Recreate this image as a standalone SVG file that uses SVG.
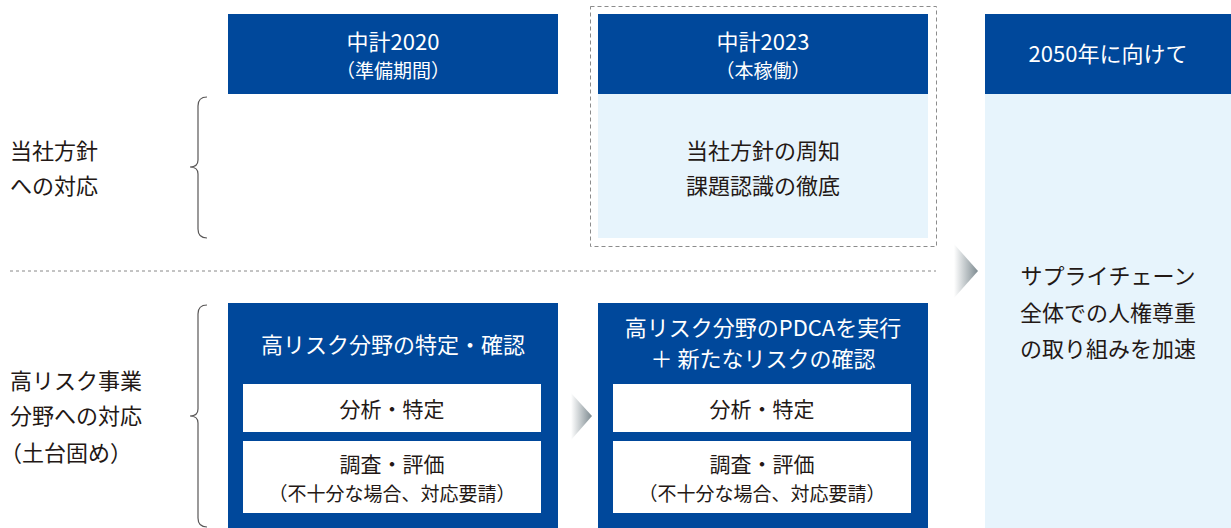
<svg xmlns="http://www.w3.org/2000/svg" width="1231" height="528" viewBox="0 0 1231 528">
<defs>
<linearGradient id="ag" x1="0" y1="0" x2="1" y2="0">
<stop offset="0" stop-color="#ffffff"/>
<stop offset="1" stop-color="#7d8a90"/>
</linearGradient>
<style>
.t{font-family:"Noto Sans CJK JP","Noto Sans",sans-serif;}
.w{fill:#ffffff;}
.k{fill:#231815;}
.blue{fill:#00489b;}
.lb{fill:#e7f4fc;}
.brace{fill:none;stroke:#595757;stroke-width:1.2;}
</style>
</defs>
<rect width="1231" height="528" fill="#ffffff"/>

<g id="left-labels">
<text class="t k" x="10" y="159" font-size="22">当社方針</text>
<text class="t k" x="10" y="194" font-size="22">への対応</text>
<text class="t k" x="10" y="389" font-size="22">高リスク事業</text>
<text class="t k" x="10" y="424" font-size="22">分野への対応</text>
<text class="t k" x="0" y="461" font-size="22">（土台固め）</text>
</g>

<g id="braces">
<path class="brace" d="M207,97 Q198,97 198,106 L198,160 Q198,167 190,167 Q198,167 198,174 L198,229 Q198,238 207,238"/>
<path class="brace" d="M207,305 Q198,305 198,314 L198,409 Q198,416 190,416 Q198,416 198,423 L198,518 Q198,527 207,527"/>
</g>

<g id="connectors">
<line x1="10" y1="271" x2="936" y2="271" stroke="#888888" stroke-width="1" stroke-dasharray="3,3"/>
<polygon points="954,244 978,271 954,298" fill="url(#ag)"/>
<polygon points="571,393 592,416 571,440" fill="url(#ag)"/>
</g>

<g id="h2020">
<rect class="blue" x="228" y="14" width="330" height="80"/>
<text class="t w" x="393" y="50" font-size="22" text-anchor="middle">中計2020</text>
<text class="t w" x="393" y="78" font-size="19" text-anchor="middle">（準備期間）</text>
</g>

<g id="h2023">
<rect x="590.5" y="6.5" width="346" height="240" fill="none" stroke="#8c8c8c" stroke-width="1" stroke-dasharray="4,3"/>
<rect class="blue" x="598" y="14" width="330" height="80"/>
<text class="t w" x="763" y="50" font-size="22" text-anchor="middle">中計2023</text>
<text class="t w" x="763" y="78" font-size="19" text-anchor="middle">（本稼働）</text>
<rect class="lb" x="598" y="94" width="330" height="144"/>
<text class="t k" x="763" y="159" font-size="22" text-anchor="middle">当社方針の周知</text>
<text class="t k" x="763" y="194" font-size="22" text-anchor="middle">課題認識の徹底</text>
</g>

<g id="h2050">
<rect class="blue" x="985" y="14" width="246" height="80"/>
<text class="t w" x="1108" y="62" font-size="22" text-anchor="middle">2050年に向けて</text>
<rect class="lb" x="985" y="94" width="246" height="434"/>
<text class="t k" x="1108" y="284" font-size="22" text-anchor="middle">サプライチェーン</text>
<text class="t k" x="1108" y="321" font-size="22" text-anchor="middle">全体での人権尊重</text>
<text class="t k" x="1108" y="357" font-size="22" text-anchor="middle">の取り組みを加速</text>
</g>

<g id="risk2020">
<rect class="blue" x="228" y="303" width="330" height="225"/>
<text class="t w" x="393" y="353" font-size="22" text-anchor="middle">高リスク分野の特定・確認</text>
<rect class="w" x="243" y="384" width="298" height="48"/>
<text class="t k" x="392" y="417" font-size="21" text-anchor="middle">分析・特定</text>
<rect class="w" x="243" y="441" width="298" height="72"/>
<text class="t k" x="392" y="472" font-size="21" text-anchor="middle">調査・評価</text>
<text class="t k" x="392" y="501" font-size="19" text-anchor="middle">（不十分な場合、対応要請）</text>
</g>

<g id="risk2023">
<rect class="blue" x="598" y="303" width="330" height="225"/>
<text class="t w" x="763" y="336" font-size="22" text-anchor="middle">高リスク分野のPDCAを実行</text>
<text class="t w" x="763" y="367" font-size="22" text-anchor="middle">＋ 新たなリスクの確認</text>
<rect class="w" x="613" y="384" width="298" height="48"/>
<text class="t k" x="762" y="417" font-size="21" text-anchor="middle">分析・特定</text>
<rect class="w" x="613" y="441" width="298" height="72"/>
<text class="t k" x="762" y="472" font-size="21" text-anchor="middle">調査・評価</text>
<text class="t k" x="762" y="501" font-size="19" text-anchor="middle">（不十分な場合、対応要請）</text>
</g>
</svg>
